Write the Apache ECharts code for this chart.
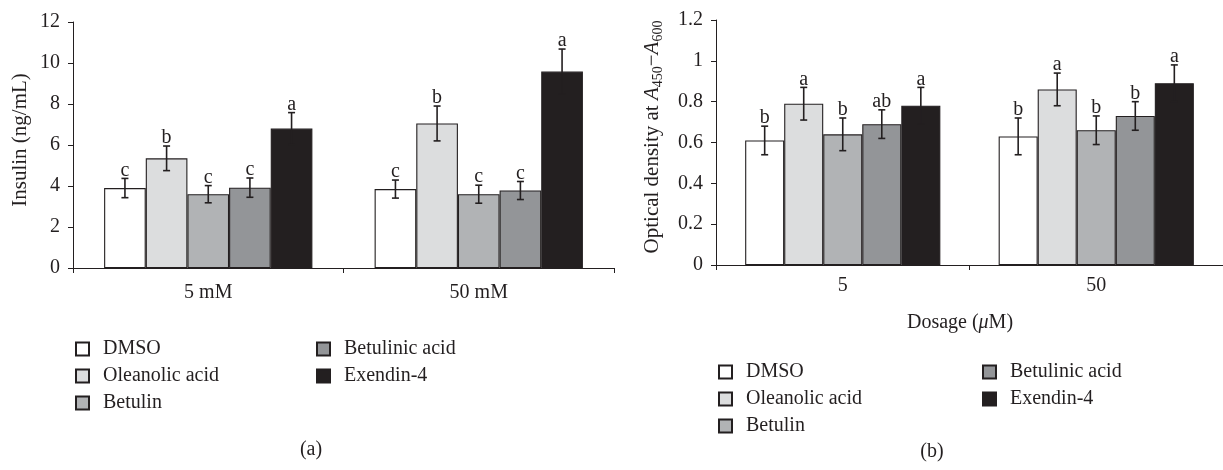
<!DOCTYPE html>
<html><head><meta charset="utf-8">
<script src="https://cdn.jsdelivr.net/npm/echarts@6/dist/echarts.min.js"></script>
<style>html,body{margin:0;padding:0;background:#fff}#c{width:1223px;height:470px}</style>
</head><body><div id="c"></div>
<script>
// ---- data ----
const seriesNames = ['DMSO', 'Oleanolic acid', 'Betulin', 'Betulinic acid', 'Exendin-4'];
const catsA = ['5 mM', '50 mM'];
const catsB = ['5', '50'];
// per series: [5, 50]
const insulinDMSO = [3.9, 3.85];
const insulinOleanolic = [5.35, 7.05];
const insulinBetulin = [3.6, 3.6];
const insulinBetulinic = [3.92, 3.78];
const insulinExendin = [6.8, 9.58];
const insulinErrDMSO = [0.47, 0.44];
const insulinErrOleanolic = [0.6, 0.85];
const insulinErrBetulin = [0.42, 0.44];
const insulinErrBetulinic = [0.47, 0.44];
const insulinErrExendin = [0.78, 1.1];
const insulinLetters = [['c', 'c'], ['b', 'b'], ['c', 'c'], ['c', 'c'], ['a', 'a']];

const odDMSO = [0.61, 0.63];
const odOleanolic = [0.79, 0.86];
const odBetulin = [0.64, 0.66];
const odBetulinic = [0.69, 0.73];
const odExendin = [0.78, 0.89];
const odErrDMSO = [0.07, 0.09];
const odErrOleanolic = [0.08, 0.08];
const odErrBetulin = [0.08, 0.07];
const odErrBetulinic = [0.07, 0.07];
const odErrExendin = [0.09, 0.09];
const odLetters = [['b', 'b'], ['a', 'a'], ['b', 'b'], ['ab', 'b'], ['a', 'a']];

const yTicksA = [0, 2, 4, 6, 8, 10, 12];
const yTicksB = [0, 0.2, 0.4, 0.6, 0.8, 1, 1.2];

// ---- styling ----
const colors = ['#ffffff', '#dcddde', '#b1b3b5', '#939598', '#231f20'];
const INK = '#231f20';
const FONT = '"Liberation Serif", "Times New Roman", serif';
const FSL = 20;
const FSN = 21;
const GAP = 0.23;

const insulinMeans = [insulinDMSO, insulinOleanolic, insulinBetulin, insulinBetulinic, insulinExendin];
const insulinErrs = [insulinErrDMSO, insulinErrOleanolic, insulinErrBetulin, insulinErrBetulinic, insulinErrExendin];
const odMeans = [odDMSO, odOleanolic, odBetulin, odBetulinic, odExendin];
const odErrs = [odErrDMSO, odErrOleanolic, odErrBetulin, odErrBetulinic, odErrExendin];

function barSeries(axisIdx, sIdx, vals) {
  return {
    name: seriesNames[sIdx], type: 'bar', xAxisIndex: axisIdx, yAxisIndex: axisIdx,
    data: vals, barGap: '0%', barCategoryGap: (GAP * 100) + '%',
    itemStyle: { color: colors[sIdx], borderColor: INK, borderWidth: 1.1 },
    emphasis: { disabled: true }, animation: false
  };
}
function errSeries(axisIdx, sIdx, means, errs, letters) {
  return {
    type: 'custom', xAxisIndex: axisIdx, yAxisIndex: axisIdx, z: 10, silent: true, animation: false,
    data: means.map((m, i) => [i, m, errs[i]]),
    encode: { x: 0, y: 1 },
    renderItem: function (params, api) {
      const ci = api.value(0), m = api.value(1), e = api.value(2);
      const c = api.coord([ci, m]);
      const catW = api.size([1, 0])[0];
      const bw = catW * (1 - GAP) / 5;
      const x = c[0] + (sIdx - 2) * bw;
      const top = api.coord([ci, m + e])[1];
      const bot = api.coord([ci, m - e])[1];
      const cap = 3.5;
      const ls = { stroke: INK, lineWidth: 1.6 };
      return {
        type: 'group', children: [
          { type: 'line', shape: { x1: x, y1: top, x2: x, y2: bot }, style: ls },
          { type: 'line', shape: { x1: x - cap, y1: top, x2: x + cap, y2: top }, style: ls },
          { type: 'line', shape: { x1: x - cap, y1: bot, x2: x + cap, y2: bot }, style: ls },
          { type: 'text', x: x, y: top + 2, style: { text: letters[sIdx][params.dataIndex], align: 'center', verticalAlign: 'bottom', textAlign: 'center', textVerticalAlign: 'bottom', fontSize: FSL, fontFamily: FONT, fill: INK } }
        ]
      };
    }
  };
}
function xAxis(gridIdx, cats, margin) {
  return {
    type: 'category', gridIndex: gridIdx, data: cats,
    axisLine: { lineStyle: { color: INK, width: 1 } },
    axisTick: { show: true, length: 5, lineStyle: { color: INK } },
    axisLabel: { color: INK, fontSize: FSL, fontFamily: FONT, margin: margin }
  };
}
function yAxis(gridIdx, ticks) {
  return {
    type: 'value', gridIndex: gridIdx, min: ticks[0], max: ticks[ticks.length - 1], interval: ticks[1] - ticks[0],
    splitLine: { show: false },
    axisLine: { show: true, lineStyle: { color: INK, width: 1 } },
    axisTick: { show: true, length: 5, lineStyle: { color: INK } },
    axisLabel: { color: INK, fontSize: FSL, fontFamily: FONT, margin: 13, formatter: v => String(+v.toFixed(1)) }
  };
}
function legend(left, top, names) {
  return {
    left: left, top: top, orient: 'vertical', padding: 0, itemGap: 7, itemWidth: 13, itemHeight: 13,
    icon: 'rect', data: names, selectedMode: false,
    textStyle: { color: INK, fontSize: FSL, fontFamily: FONT, padding: [0, 0, 0, 9] }
  };
}

const series = [];
for (let i = 0; i < 5; i++) series.push(barSeries(0, i, insulinMeans[i]));
for (let i = 0; i < 5; i++) series.push(barSeries(1, i, odMeans[i]));
for (let i = 0; i < 5; i++) series.push(errSeries(0, i, insulinMeans[i], insulinErrs[i], insulinLetters));
for (let i = 0; i < 5; i++) series.push(errSeries(1, i, odMeans[i], odErrs[i], odLetters));

const chart = echarts.init(document.getElementById('c'), null, { renderer: 'canvas' });
chart.setOption({
  animation: false,
  backgroundColor: '#fff',
  grid: [
    { left: 73, right: 609, top: 22, bottom: 202 },
    { left: 716, right: -5, top: 20, bottom: 205 }
  ],
  xAxis: [xAxis(0, catsA, 15), xAxis(1, catsB, 11)],
  yAxis: [yAxis(0, yTicksA), yAxis(1, yTicksB)],
  legend: [
    legend(75, 339, seriesNames.slice(0, 3)),
    legend(316, 339, seriesNames.slice(3)),
    legend(718, 362, seriesNames.slice(0, 3)),
    legend(982, 362, seriesNames.slice(3))
  ],
  graphic: [
    { type: 'text', x: 20, y: 140, rotation: Math.PI / 2, style: { text: 'Insulin (ng/mL)', align: 'center', verticalAlign: 'middle', textAlign: 'center', textVerticalAlign: 'middle', fontSize: FSN, fontFamily: FONT, fill: INK } },
    { type: 'text', x: 652, y: 137, rotation: Math.PI / 2, style: {
        text: '{n|Optical density at }{i|A}{s|450}{n|−}{i|A}{s|600}',
        align: 'center', verticalAlign: 'middle', textAlign: 'center', textVerticalAlign: 'middle', fill: INK,
        rich: {
          n: { fontSize: FSN, fontFamily: FONT, fill: INK, color: INK, lineHeight: 26 },
          i: { fontSize: FSN, fontFamily: FONT, fontStyle: 'italic', fill: INK, color: INK, lineHeight: 26 },
          s: { fontSize: 14, fontFamily: FONT, fill: INK, color: INK, lineHeight: 13, verticalAlign: 'bottom' }
        } } },
    { type: 'text', x: 960, y: 323, style: { text: '{n|Dosage (}{i|μ}{n|M)}', align: 'center', verticalAlign: 'middle', textAlign: 'center', textVerticalAlign: 'middle', fill: INK,
        rich: { n: { fontSize: FSL, fontFamily: FONT, fill: INK, color: INK }, i: { fontSize: FSL, fontFamily: FONT, fontStyle: 'italic', fill: INK, color: INK } } } },
    { type: 'text', x: 311, y: 450, style: { text: '(a)', align: 'center', verticalAlign: 'middle', textAlign: 'center', textVerticalAlign: 'middle', fontSize: FSL, fontFamily: FONT, fill: INK } },
    { type: 'text', x: 932, y: 452, style: { text: '(b)', align: 'center', verticalAlign: 'middle', textAlign: 'center', textVerticalAlign: 'middle', fontSize: FSL, fontFamily: FONT, fill: INK } }
  ],
  series: series
});
</script>
</body></html>
